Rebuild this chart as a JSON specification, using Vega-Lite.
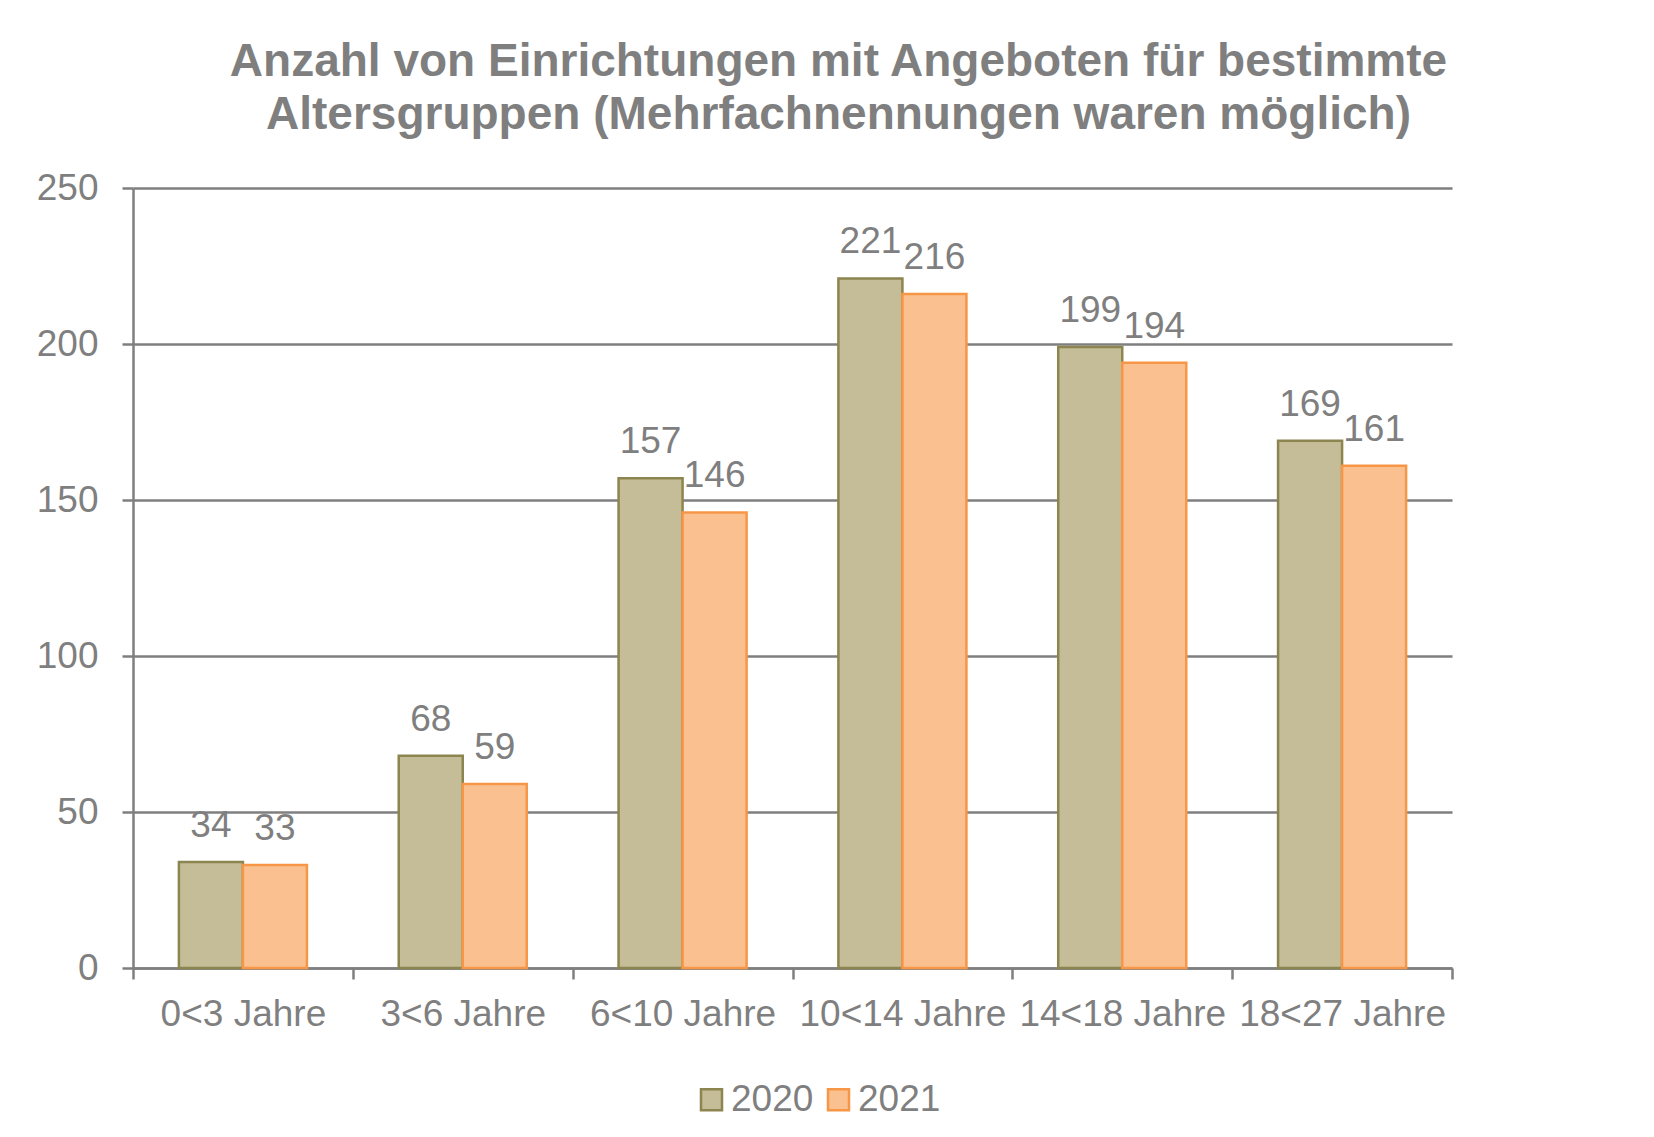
{
  "$schema": "https://vega.github.io/schema/vega-lite/v6.json",
  "width": 1319,
  "height": 780,
  "autosize": {"type": "none"},
  "padding": {"left": 133, "top": 188, "right": 202, "bottom": 169},
  "background": "white",
  "title": {
    "text": ["Anzahl von Einrichtungen mit Angeboten für bestimmte", "Altersgruppen (Mehrfachnennungen waren möglich)"],
    "font": "Liberation Sans",
    "fontSize": 46,
    "fontWeight": "bold",
    "color": "#7f7f7f",
    "anchor": "middle",
    "dx": 46,
    "offset": 30,
    "lineHeight": 53
  },
  "data": {
    "values": [
      {"gruppe": "0<3 Jahre", "jahr": "2020", "anzahl": 34},
      {"gruppe": "0<3 Jahre", "jahr": "2021", "anzahl": 33},
      {"gruppe": "3<6 Jahre", "jahr": "2020", "anzahl": 68},
      {"gruppe": "3<6 Jahre", "jahr": "2021", "anzahl": 59},
      {"gruppe": "6<10 Jahre", "jahr": "2020", "anzahl": 157},
      {"gruppe": "6<10 Jahre", "jahr": "2021", "anzahl": 146},
      {"gruppe": "10<14 Jahre", "jahr": "2020", "anzahl": 221},
      {"gruppe": "10<14 Jahre", "jahr": "2021", "anzahl": 216},
      {"gruppe": "14<18 Jahre", "jahr": "2020", "anzahl": 199},
      {"gruppe": "14<18 Jahre", "jahr": "2021", "anzahl": 194},
      {"gruppe": "18<27 Jahre", "jahr": "2020", "anzahl": 169},
      {"gruppe": "18<27 Jahre", "jahr": "2021", "anzahl": 161}
    ]
  },
  "encoding": {
    "x": {
      "field": "gruppe",
      "type": "nominal",
      "sort": null,
      "scale": {"paddingInner": 0, "paddingOuter": 0},
      "axis": {"tickBand": "extent", "labelAngle": 0, "labelPadding": 17, "labelLimit": 0, "labelOverlap": false, "grid": false, "title": null}
    },
    "xOffset": {
      "field": "jahr",
      "type": "nominal",
      "scale": {"paddingInner": 0, "paddingOuter": 0.717}
    },
    "y": {
      "field": "anzahl",
      "type": "quantitative",
      "scale": {"domain": [0, 250], "nice": false},
      "axis": {"values": [0, 50, 100, 150, 200, 250], "grid": true, "labelPadding": 24, "title": null}
    }
  },
  "layer": [
    {
      "mark": {"type": "bar", "strokeWidth": 2.5},
      "encoding": {
        "fill": {
          "field": "jahr",
          "type": "nominal",
          "title": null,
          "scale": {"domain": ["2020", "2021"], "range": ["#C4BD97", "#FAC090"]}
        },
        "stroke": {
          "field": "jahr",
          "type": "nominal",
          "title": null,
          "scale": {"domain": ["2020", "2021"], "range": ["#8C8550", "#F79646"]}
        }
      }
    },
    {
      "mark": {"type": "text", "dy": -25, "baseline": "alphabetic", "font": "Liberation Sans", "fontSize": 37, "color": "#7f7f7f"},
      "encoding": {"text": {"field": "anzahl", "type": "quantitative"}}
    }
  ],
  "config": {
    "view": {"stroke": null},
    "axis": {
      "domainColor": "#7f7f7f",
      "domainWidth": 2.5,
      "tickColor": "#7f7f7f",
      "tickWidth": 2.5,
      "tickSize": 11,
      "gridColor": "#7f7f7f",
      "gridWidth": 2.5,
      "labelFont": "Liberation Sans",
      "labelFontSize": 37,
      "labelColor": "#7f7f7f"
    },
    "legend": {
      "orient": "none",
      "legendX": 560,
      "legendY": 893,
      "direction": "horizontal",
      "columns": 2,
      "symbolType": "square",
      "symbolSize": 441,
      "symbolStrokeWidth": 2.5,
      "labelFont": "Liberation Sans",
      "labelFontSize": 37,
      "labelColor": "#7f7f7f",
      "columnPadding": 6,
      "labelOffset": 1
    }
  }
}
